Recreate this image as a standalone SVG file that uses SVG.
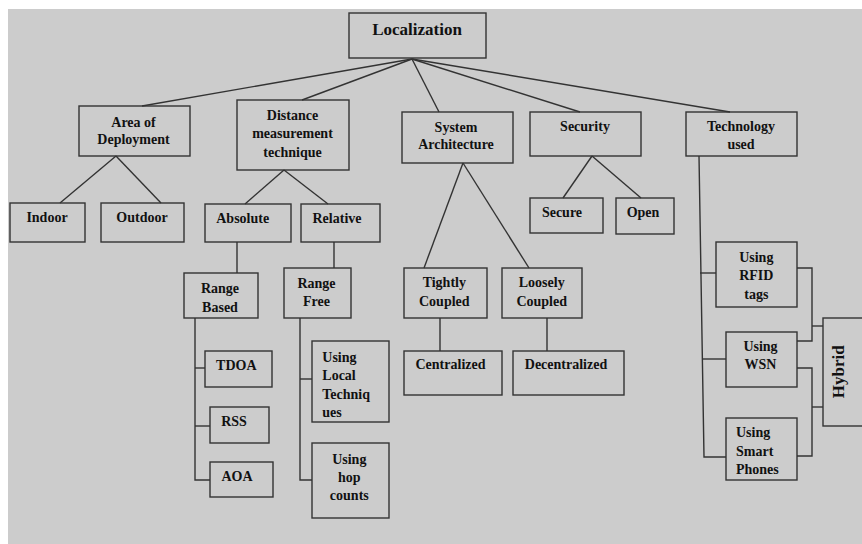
<svg xmlns="http://www.w3.org/2000/svg" width="862" height="544" viewBox="0 0 862 544">
<style>
  .bx { fill: none; stroke: #333; stroke-width: 1.4; }
  .t { font-family: "Liberation Serif", "Times New Roman", serif; font-weight: bold; font-size: 14px; fill: #111; text-anchor: middle; }
  .l { text-anchor: start; }
  .c { stroke: #333; stroke-width: 1.4; fill: none; }
</style>
<rect x="0" y="0" width="862" height="544" fill="#ffffff"/>
<rect x="8" y="9" width="854" height="535" fill="#cccccc"/>

<g id="connectors" class="c">
  <line x1="412" y1="59" x2="142" y2="106"/>
  <line x1="412" y1="59" x2="302" y2="100"/>
  <line x1="412" y1="59" x2="439" y2="112"/>
  <line x1="412" y1="59" x2="580" y2="112"/>
  <line x1="412" y1="59" x2="730" y2="112"/>
  <line x1="116" y1="156" x2="60" y2="203"/>
  <line x1="116" y1="156" x2="161" y2="203"/>
  <line x1="284" y1="170" x2="245" y2="204"/>
  <line x1="284" y1="170" x2="328" y2="204"/>
  <line x1="463" y1="163" x2="424" y2="268"/>
  <line x1="463" y1="163" x2="529" y2="268"/>
  <line x1="592" y1="156" x2="563" y2="198"/>
  <line x1="592" y1="156" x2="641" y2="198"/>
  <line x1="237" y1="242" x2="237" y2="273"/>
  <line x1="334" y1="242" x2="334" y2="268"/>
  <polyline points="195,318 195,480 210,480"/>
  <line x1="195" y1="368" x2="205" y2="368"/>
  <line x1="195" y1="426" x2="210" y2="426"/>
  <polyline points="300,318 300,480 312,480"/>
  <line x1="300" y1="379" x2="312" y2="379"/>
  <line x1="440" y1="318" x2="440" y2="351"/>
  <line x1="547" y1="318" x2="547" y2="351"/>
  <polyline points="699,156 704,457 726,457"/>
  <line x1="700" y1="273" x2="716" y2="273"/>
  <line x1="702" y1="359" x2="726" y2="359"/>
  <polyline points="797,268 812,268 812,341 797,341"/>
  <line x1="812" y1="326" x2="823" y2="326"/>
  <polyline points="797,368 812,368 812,456 797,456"/>
  <line x1="812" y1="407" x2="823" y2="407"/>
</g>

<g id="localization"><rect class="bx" x="349" y="13" width="137" height="45"/><text class="t" x="417" y="35" style="font-size:17px">Localization</text></g>
<g id="area"><rect class="bx" x="79" y="106" width="111" height="50"/><text class="t" x="133.5" y="126.5">Area of</text><text class="t" x="133.5" y="144">Deployment</text></g>
<g id="distance"><rect class="bx" x="237" y="100" width="112" height="70"/><text class="t" x="292.5" y="120">Distance</text><text class="t" x="292.5" y="138.3">measurement</text><text class="t" x="292.5" y="156.7">technique</text></g>
<g id="sysarch"><rect class="bx" x="402" y="112" width="111" height="51"/><text class="t" x="456" y="132">System</text><text class="t" x="456" y="149.3">Architecture</text></g>
<g id="security"><rect class="bx" x="530" y="112" width="111" height="44"/><text class="t" x="585" y="130.7">Security</text></g>
<g id="technology"><rect class="bx" x="686" y="112" width="111" height="44"/><text class="t" x="741" y="131">Technology</text><text class="t" x="741" y="149">used</text></g>

<g id="indoor"><rect class="bx" x="10" y="203" width="75" height="39"/><text class="t" x="47" y="222">Indoor</text></g>
<g id="outdoor"><rect class="bx" x="101" y="203" width="83" height="39"/><text class="t" x="142" y="222">Outdoor</text></g>
<g id="absolute"><rect class="bx" x="205" y="204" width="86" height="38"/><text class="t" x="242.7" y="222.7">Absolute</text></g>
<g id="relative"><rect class="bx" x="301" y="204" width="79" height="38"/><text class="t" x="337" y="222.7">Relative</text></g>
<g id="rangebased"><rect class="bx" x="184" y="273" width="74" height="45"/><text class="t" x="220" y="293.3">Range</text><text class="t" x="220" y="311.7">Based</text></g>
<g id="rangefree"><rect class="bx" x="284" y="268" width="67" height="50"/><text class="t" x="316.5" y="287.7">Range</text><text class="t" x="316.5" y="306">Free</text></g>
<g id="tdoa"><rect class="bx" x="205" y="351" width="67" height="36"/><text class="t" x="236.3" y="370">TDOA</text></g>
<g id="rss"><rect class="bx" x="210" y="407" width="59" height="36"/><text class="t" x="234" y="425.7">RSS</text></g>
<g id="aoa"><rect class="bx" x="210" y="462" width="63" height="35"/><text class="t" x="237" y="480.7">AOA</text></g>
<g id="localtech"><rect class="bx" x="312" y="341" width="77" height="81"/><text class="t l" x="322.3" y="361.7">Using</text><text class="t l" x="322.3" y="380">Local</text><text class="t l" x="322.3" y="399">Techniq</text><text class="t l" x="322.3" y="416.7">ues</text></g>
<g id="hopcounts"><rect class="bx" x="312" y="443" width="77" height="75"/><text class="t" x="349.3" y="464">Using</text><text class="t" x="349.3" y="482.3">hop</text><text class="t" x="349.3" y="500">counts</text></g>
<g id="tightly"><rect class="bx" x="404" y="268" width="83" height="50"/><text class="t" x="444.3" y="287.3">Tightly</text><text class="t" x="444.3" y="305.7">Coupled</text></g>
<g id="loosely"><rect class="bx" x="502" y="268" width="80" height="50"/><text class="t" x="541.7" y="287.3">Loosely</text><text class="t" x="541.7" y="305.7">Coupled</text></g>
<g id="centralized"><rect class="bx" x="404" y="351" width="98" height="44"/><text class="t" x="450.5" y="369.3">Centralized</text></g>
<g id="decentralized"><rect class="bx" x="513" y="351" width="111" height="44"/><text class="t" x="566" y="369">Decentralized</text></g>
<g id="secure"><rect class="bx" x="530" y="198" width="73" height="35"/><text class="t" x="562" y="216.7">Secure</text></g>
<g id="open"><rect class="bx" x="616" y="198" width="58" height="36"/><text class="t" x="643" y="216.7">Open</text></g>
<g id="rfid"><rect class="bx" x="716" y="242" width="81" height="65"/><text class="t" x="756.3" y="261.7">Using</text><text class="t" x="756.3" y="280">RFID</text><text class="t" x="756.3" y="299">tags</text></g>
<g id="wsn"><rect class="bx" x="726" y="332" width="71" height="55"/><text class="t" x="760.5" y="351">Using</text><text class="t" x="760.5" y="369">WSN</text></g>
<g id="smartphones"><rect class="bx" x="726" y="418" width="71" height="62"/><text class="t l" x="736" y="437.3">Using</text><text class="t l" x="736" y="455.7">Smart</text><text class="t l" x="736" y="474">Phones</text></g>
<g id="hybrid"><rect class="bx" x="823" y="318" width="45" height="108"/><text class="t" x="844" y="371.7" transform="rotate(-90 844 371.7)" style="font-size:17px">Hybrid</text></g>
</svg>
